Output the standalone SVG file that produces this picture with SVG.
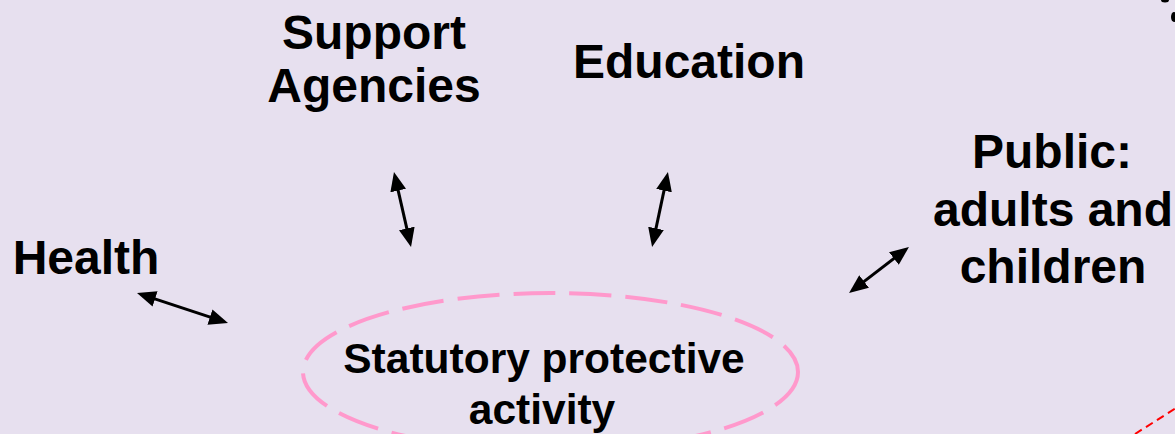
<svg xmlns="http://www.w3.org/2000/svg" width="1175" height="434" viewBox="0 0 1175 434">
<style>
.lbl{font-family:"Liberation Sans",Arial,sans-serif;font-weight:bold;font-size:48px;fill:#000;text-anchor:middle}
.core{font-size:42.5px}
.arr{stroke:#000;stroke-width:3;fill:none;marker-start:url(#ah);marker-end:url(#ah)}
</style>
<defs>
<marker id="ah" markerUnits="userSpaceOnUse" viewBox="0 0 19 16" markerWidth="19" markerHeight="16" refX="13" refY="8" orient="auto-start-reverse">
<path d="M0,0 L19,8 L0,16 Z" fill="#000"/>
</marker>
</defs>
<rect width="1175" height="434" fill="#E7E0EF"/>
<g id="connectors">
<line class="arr" x1="142.7" y1="294.9" x2="222.3" y2="321.1"/>
<line class="arr" x1="395.3" y1="177.9" x2="409.7" y2="241.1"/>
<line class="arr" x1="666.7" y1="177.9" x2="653.3" y2="241.1"/>
<line class="arr" x1="904.2" y1="250.6" x2="853.8" y2="289.4"/>
</g>
<g id="core">
<ellipse cx="550.5" cy="372" rx="247.5" ry="79" fill="none" stroke="#FF99CC" stroke-width="4" stroke-dasharray="42 14"/>
<text class="lbl core" x="544" y="373">Statutory protective</text>
<text class="lbl core" x="542" y="424">activity</text>
</g>
<g id="support"><text class="lbl" x="374" y="48.5">Support</text><text class="lbl" x="374" y="101.5">Agencies</text></g>
<g id="education"><text class="lbl" x="689" y="78">Education</text></g>
<g id="public"><text class="lbl" x="1052" y="168">Public:</text><text class="lbl" x="1053" y="226">adults and</text><text class="lbl" x="1053" y="283">children</text></g>
<g id="health"><text class="lbl" x="86" y="274">Health</text></g>
<g id="edge-marks">
<ellipse cx="1165" cy="0" rx="4" ry="2.5" fill="#000"/>
<ellipse cx="1174" cy="17" rx="3" ry="5" fill="#000"/>
<line x1="1135" y1="434" x2="1176" y2="408" stroke="#FF0000" stroke-width="2" stroke-dasharray="8 5"/>
</g>
</svg>
